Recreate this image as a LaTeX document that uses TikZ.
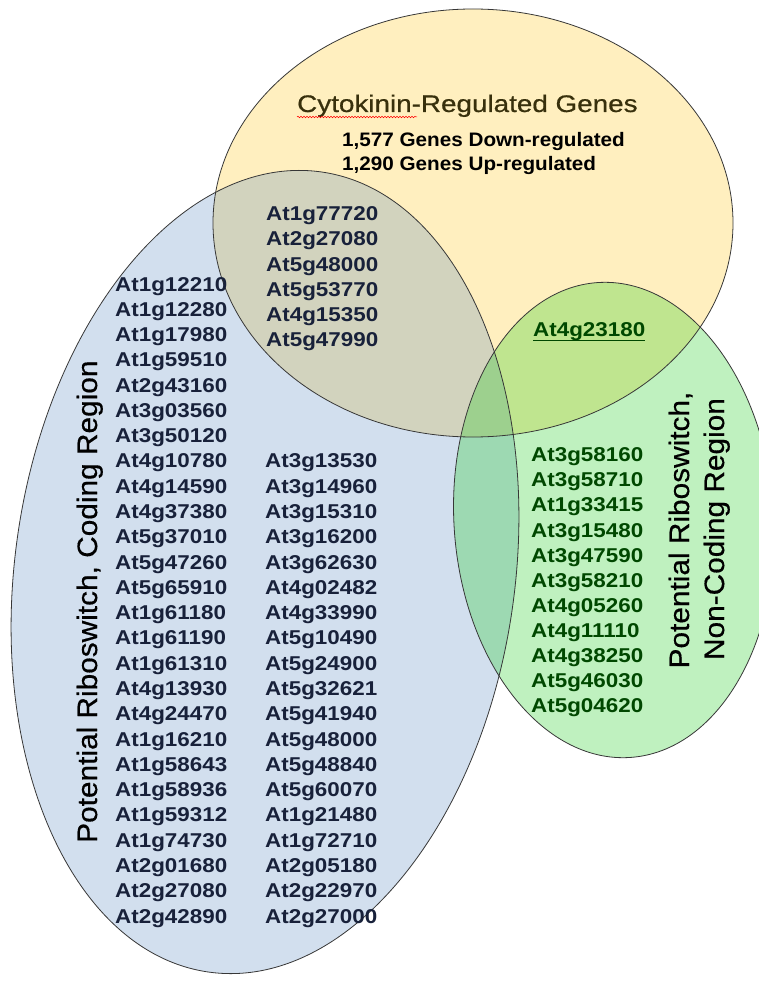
\documentclass[tikz,border=0pt]{standalone}
\usepackage{fontspec}
\setmainfont{Liberation Sans}
\newfontfamily\genefont{Liberation Sans}[FakeStretch=1.12]
\newfontfamily\titlefont{Liberation Sans}[FakeStretch=1.16, FakeBold=0.6]
\newfontfamily\countfont{Liberation Sans}[FakeStretch=1.06]
\newfontfamily\labelfont{Liberation Sans}[FakeStretch=1.065, FakeBold=0.5]
\usetikzlibrary{decorations.pathmorphing}
\definecolor{yelfill}{RGB}{255,192,0}
\definecolor{bluefill}{RGB}{79,129,189}
\definecolor{greenfill}{RGB}{0,200,0}
\definecolor{outline}{RGB}{55,55,55}
\definecolor{navytext}{RGB}{24,33,58}
\definecolor{greentext}{RGB}{0,72,0}
\definecolor{titletext}{RGB}{56,48,12}
\tikzset{
  venn/.style={fill opacity=0.25},
  vennline/.style={draw=outline, line width=0.8pt},
  gene/.style={inner sep=0pt, anchor=base west, text=navytext, font=\genefont\bfseries\fontsize{20}{24}\selectfont},
  ggene/.style={gene, text=greentext},
  biglabel/.style={inner sep=0pt, font=\labelfont\fontsize{28}{35}\selectfont, text=black, rotate=90},
}
\begin{document}
\begin{tikzpicture}[x=1pt,y=-1pt]
\useasboundingbox (0,0) rectangle (759,984);
\clip (0,0) rectangle (759,984);
\fill[white] (0,0) rectangle (759,984);
% fills
\fill[yelfill, venn] (473,223) ellipse [x radius=260pt, y radius=214pt];
\fill[bluefill, venn, rotate around={-8:(265,572)}] (265,572) ellipse [x radius=250pt, y radius=404pt];
\fill[greenfill, venn, rotate around={4:(614,520)}] (614,520) ellipse [x radius=160pt, y radius=238pt];
% outlines
\draw[vennline] (473,223) ellipse [x radius=260pt, y radius=214pt];
\draw[vennline, rotate around={-8:(265,572)}] (265,572) ellipse [x radius=250pt, y radius=404pt];
\draw[vennline, rotate around={4:(614,520)}] (614,520) ellipse [x radius=160pt, y radius=238pt];
% title texts
\node[inner sep=0pt, anchor=base west, text=titletext, font=\titlefont\fontsize{24}{28}\selectfont] (title) at (297,112) {Cytokinin-Regulated Genes};
\draw[red, line width=0.5pt, decorate, decoration={snake, amplitude=0.8pt, segment length=3pt}] (297,117) -- (417,117);
\node[inner sep=0pt, anchor=base west, font=\countfont\bfseries\fontsize{19.5}{24}\selectfont] (down) at (342,147) {1,577 Genes Down-regulated};
\node[inner sep=0pt, anchor=base west, font=\countfont\bfseries\fontsize{19.5}{24}\selectfont] (up) at (342,171) {1,290 Genes Up-regulated};
% rotated labels
\node[biglabel, anchor=base west] (coding) at (97,843) {Potential Riboswitch, Coding Region};
\node[biglabel, anchor=base] (nc1) at (689,530) {Potential Riboswitch,};
\node[biglabel, anchor=base] (nc2) at (724,529) {Non-Coding Region};
% overlap yellow-blue
\foreach \t [count=\i] in {At1g77720,At2g27080,At5g48000,At5g53770,At4g15350,At5g47990}
  \node[gene] (ov-\i) at (266,{220.7+(\i-1)*25.2}) {\t};
% blue column 1
\foreach \t [count=\i] in {At1g12210,At1g12280,At1g17980,At1g59510,At2g43160,At3g03560,At3g50120,At4g10780,At4g14590,At4g37380,At5g37010,At5g47260,At5g65910,At1g61180,At1g61190,At1g61310,At4g13930,At4g24470,At1g16210,At1g58643,At1g58936,At1g59312,At1g74730,At2g01680,At2g27080,At2g42890}
  \node[gene] (ca-\i) at (115,{291+(\i-1)*25.28}) {\t};
% blue column 2
\foreach \t [count=\i] in {At3g13530,At3g14960,At3g15310,At3g16200,At3g62630,At4g02482,At4g33990,At5g10490,At5g24900,At5g32621,At5g41940,At5g48000,At5g48840,At5g60070,At1g21480,At1g72710,At2g05180,At2g22970,At2g27000}
  \node[gene] (cb-\i) at (265,{291+(\i+6)*25.28}) {\t};
% yellow-green overlap
\node[ggene] (yg) at (533,336) {At4g23180};
\draw[greentext, line width=1.3pt] ([yshift=-4.5pt]yg.base west) -- ([yshift=-4.5pt]yg.base east);
% green list
\foreach \t [count=\i] in {At3g58160,At3g58710,At1g33415,At3g15480,At3g47590,At3g58210,At4g05260,At4g11110,At4g38250,At5g46030,At5g04620}
  \node[ggene] (gr-\i) at (531,{461.7+(\i-1)*25.1}) {\t};
\end{tikzpicture}
\end{document}
